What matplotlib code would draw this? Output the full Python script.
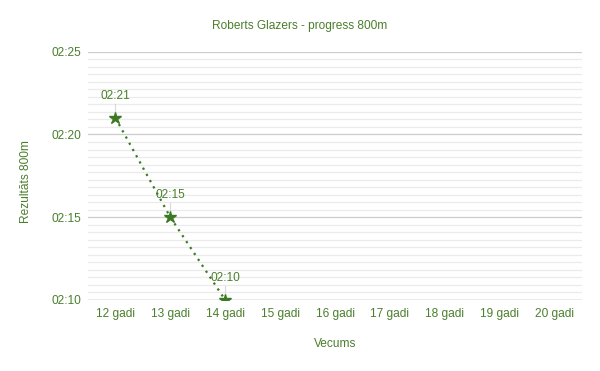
import matplotlib
matplotlib.use("Agg")
import matplotlib.pyplot as plt
from matplotlib.ticker import FuncFormatter, FixedLocator
import numpy as np

plt.rcParams['font.family'] = ['Liberation Sans', 'DejaVu Sans']

categories = ["12 gadi", "13 gadi", "14 gadi", "15 gadi", "16 gadi",
              "17 gadi", "18 gadi", "19 gadi", "20 gadi"]
# results in seconds (mm:ss)
results = [141, 135, 130]
result_labels = ["02:21", "02:15", "02:10"]
y_ticks = [130, 135, 140, 145]

green = '#3b7a22'
text_green = '#4a7f2c'
fs = 8.6

fig = plt.figure(figsize=(6, 3.71), dpi=100)
ax = fig.add_axes([88/600, 1-300/371, (582-88)/600, (300-51.7)/371])

x = np.arange(len(categories))
ax.set_xlim(-0.5, len(categories) - 0.5)
ax.set_ylim(130, 145)

# gridlines
minor = []
for a in y_ticks[:-1]:
    minor += [a + 5 * k / 11 for k in range(1, 11)]
ax.yaxis.set_major_locator(FixedLocator(y_ticks))
ax.yaxis.set_minor_locator(FixedLocator(minor))
ax.grid(which='major', axis='y', color='#cccccc', lw=0.9)
ax.grid(which='minor', axis='y', color='#ebebeb', lw=0.9)
ax.set_axisbelow(True)
ax.axhline(130, color='#b0b0b0', lw=1.0, zorder=1)

ax.plot(x[:len(results)], results, color=green, ls=(0, (1, 2.2)), lw=1.6,
        marker='*', markersize=9, zorder=3)

for xi, yi, lab in zip(x, results, result_labels):
    ax.plot([xi, xi], [yi + 0.3, yi + 0.85], color='#d8d8d8', lw=0.8, zorder=2)
    ax.annotate(lab, (xi, yi), xytext=(0, 16), textcoords='offset points',
                ha='center', va='center', fontsize=fs, color=text_green,
                annotation_clip=False)

ax.yaxis.set_major_formatter(FuncFormatter(lambda v, p: "%02d:%02d" % (int(v) // 60, int(v) % 60)))
ax.set_xticks(x)
ax.set_xticklabels(categories)
ax.tick_params(axis='both', which='both', length=0, colors=text_green, labelsize=fs)
ax.tick_params(axis='y', pad=5)
ax.tick_params(axis='x', pad=6)
for s in ax.spines.values():
    s.set_visible(False)

ax.set_xlabel("Vecums", fontsize=fs, color=text_green, va='center')
ax.xaxis.set_label_coords(0.5, (300 - 344) / 248.3)
ax.set_ylabel("Rezultāts 800m", fontsize=fs, color=text_green, va='center')
ax.yaxis.set_label_coords((26 - 88) / 494, (300 - 182) / 248.3)
fig.text(0.5, 1 - 26/371, "Roberts Glazers - progress 800m", ha='center', va='center',
         fontsize=fs, color=text_green)

fig.savefig("out.png", dpi=100, facecolor='white')
